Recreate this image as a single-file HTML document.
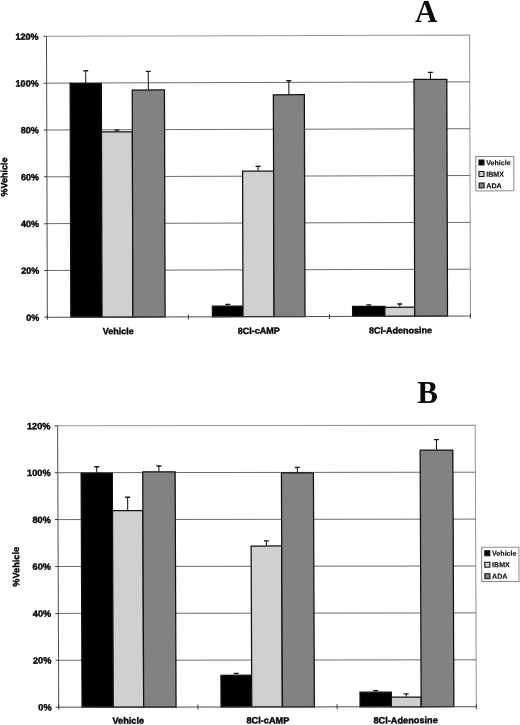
<!DOCTYPE html>
<html><head><meta charset="utf-8"><title>Figure</title>
<style>
html,body{margin:0;padding:0;background:#fff;}
body{width:520px;height:725px;overflow:hidden;}
svg{display:block;}
.t{font-family:"Liberation Sans",Arial,sans-serif;font-weight:bold;fill:#050505;stroke:#050505;stroke-width:0.4;}
.l{font-family:"Liberation Sans",Arial,sans-serif;font-weight:bold;fill:#111;stroke:#111;stroke-width:0.15;}
.h{font-family:"Liberation Serif","Times New Roman",serif;font-weight:bold;fill:#0a0a0a;}
</style></head><body>
<svg width="520" height="725" viewBox="0 0 520 725">
<rect width="520" height="725" fill="#fff"/>
<text x="426.3" y="22.4" text-anchor="middle" class="h" font-size="31">A</text>
<text x="427.7" y="402.6" text-anchor="middle" class="h" font-size="31">B</text>
<g transform="matrix(1,-0.003,0.003,1,46.5,36.3)">
<path d="M0,0 H423.1 V281" fill="none" stroke="#959595" stroke-width="1"/>
<line x1="0" y1="46.83" x2="423.1" y2="46.83" stroke="#5a5a5a" stroke-width="0.9"/>
<line x1="0" y1="93.67" x2="423.1" y2="93.67" stroke="#5a5a5a" stroke-width="0.9"/>
<line x1="0" y1="140.50" x2="423.1" y2="140.50" stroke="#5a5a5a" stroke-width="0.9"/>
<line x1="0" y1="187.33" x2="423.1" y2="187.33" stroke="#5a5a5a" stroke-width="0.9"/>
<line x1="0" y1="234.17" x2="423.1" y2="234.17" stroke="#5a5a5a" stroke-width="0.9"/>
<path d="M39.08,46.83 V34.42" stroke="#1a1a1a" stroke-width="1.05" fill="none"/>
<path d="M36.58,34.62 H41.58" stroke="#1a1a1a" stroke-width="1.35" fill="none"/>
<rect x="23.48" y="47.23" width="31.20" height="233.77" fill="#000" stroke="#111" stroke-width="1.25"/>
<path d="M70.13,95.31 V93.90" stroke="#1a1a1a" stroke-width="1.05" fill="none"/>
<path d="M67.63,94.10 H72.63" stroke="#1a1a1a" stroke-width="1.35" fill="none"/>
<rect x="54.68" y="95.71" width="30.90" height="185.29" fill="#d0d0d0" stroke="#111" stroke-width="1.25"/>
<path d="M101.68,53.62 V35.12" stroke="#1a1a1a" stroke-width="1.05" fill="none"/>
<path d="M99.18,35.33 H104.18" stroke="#1a1a1a" stroke-width="1.35" fill="none"/>
<rect x="85.58" y="54.02" width="32.20" height="226.98" fill="#828282" stroke="#111" stroke-width="1.25"/>
<path d="M180.38,269.99 V268.36" stroke="#1a1a1a" stroke-width="1.05" fill="none"/>
<path d="M177.88,268.56 H182.88" stroke="#1a1a1a" stroke-width="1.35" fill="none"/>
<rect x="165.08" y="270.39" width="30.60" height="10.61" fill="#000" stroke="#111" stroke-width="1.25"/>
<path d="M211.18,135.11 V130.43" stroke="#1a1a1a" stroke-width="1.05" fill="none"/>
<path d="M208.68,130.63 H213.68" stroke="#1a1a1a" stroke-width="1.35" fill="none"/>
<rect x="195.68" y="135.51" width="31.00" height="145.49" fill="#d0d0d0" stroke="#111" stroke-width="1.25"/>
<path d="M242.18,58.78 V44.96" stroke="#1a1a1a" stroke-width="1.05" fill="none"/>
<path d="M239.68,45.16 H244.68" stroke="#1a1a1a" stroke-width="1.35" fill="none"/>
<rect x="226.68" y="59.18" width="31.00" height="221.82" fill="#828282" stroke="#111" stroke-width="1.25"/>
<path d="M321.43,270.70 V269.29" stroke="#1a1a1a" stroke-width="1.05" fill="none"/>
<path d="M318.93,269.49 H323.93" stroke="#1a1a1a" stroke-width="1.35" fill="none"/>
<rect x="305.28" y="271.10" width="32.30" height="9.90" fill="#000" stroke="#111" stroke-width="1.25"/>
<path d="M352.48,271.63 V268.59" stroke="#1a1a1a" stroke-width="1.05" fill="none"/>
<path d="M349.98,268.79 H354.98" stroke="#1a1a1a" stroke-width="1.35" fill="none"/>
<rect x="337.58" y="272.03" width="29.80" height="8.97" fill="#d0d0d0" stroke="#111" stroke-width="1.25"/>
<path d="M383.78,43.79 V37.00" stroke="#1a1a1a" stroke-width="1.05" fill="none"/>
<path d="M381.28,37.20 H386.28" stroke="#1a1a1a" stroke-width="1.35" fill="none"/>
<rect x="367.38" y="44.19" width="32.80" height="236.81" fill="#828282" stroke="#111" stroke-width="1.25"/>
<path d="M0,0 V281 H423.1" fill="none" stroke="#444" stroke-width="0.95"/>
<line x1="-3" y1="0.00" x2="0" y2="0.00" stroke="#3a3a3a" stroke-width="1"/>
<text x="-8" y="3.30" text-anchor="end" class="t" font-size="9">120%</text>
<line x1="-3" y1="46.83" x2="0" y2="46.83" stroke="#3a3a3a" stroke-width="1"/>
<text x="-8" y="50.13" text-anchor="end" class="t" font-size="9">100%</text>
<line x1="-3" y1="93.67" x2="0" y2="93.67" stroke="#3a3a3a" stroke-width="1"/>
<text x="-8" y="96.97" text-anchor="end" class="t" font-size="9">80%</text>
<line x1="-3" y1="140.50" x2="0" y2="140.50" stroke="#3a3a3a" stroke-width="1"/>
<text x="-8" y="143.80" text-anchor="end" class="t" font-size="9">60%</text>
<line x1="-3" y1="187.33" x2="0" y2="187.33" stroke="#3a3a3a" stroke-width="1"/>
<text x="-8" y="190.63" text-anchor="end" class="t" font-size="9">40%</text>
<line x1="-3" y1="234.17" x2="0" y2="234.17" stroke="#3a3a3a" stroke-width="1"/>
<text x="-8" y="237.47" text-anchor="end" class="t" font-size="9">20%</text>
<line x1="-3" y1="281.00" x2="0" y2="281.00" stroke="#3a3a3a" stroke-width="1"/>
<text x="-8" y="284.30" text-anchor="end" class="t" font-size="9">0%</text>
<line x1="0.00" y1="278.5" x2="0.00" y2="283.5" stroke="#3a3a3a" stroke-width="1"/>
<line x1="141.03" y1="278.5" x2="141.03" y2="283.5" stroke="#3a3a3a" stroke-width="1"/>
<line x1="282.07" y1="278.5" x2="282.07" y2="283.5" stroke="#3a3a3a" stroke-width="1"/>
<line x1="423.10" y1="278.5" x2="423.10" y2="283.5" stroke="#3a3a3a" stroke-width="1"/>
<text x="70.76" y="298.2" text-anchor="middle" class="t" font-size="9">Vehicle</text>
<text x="211.46" y="298.2" text-anchor="middle" class="t" font-size="9">8Cl-cAMP</text>
<text x="353.06" y="298.2" text-anchor="middle" class="t" font-size="9">8Cl-Adenosine</text>
<text transform="translate(-39.7,140.6) rotate(-90)" text-anchor="middle" class="t" font-size="9">%Vehicle</text>
<rect x="428.9" y="121.5" width="38" height="34.4" fill="#fff" stroke="#8a8a8a" stroke-width="1"/>
<rect x="432.09999999999997" y="125.00" width="5" height="5" fill="#000" stroke="#111" stroke-width="1.1"/>
<text x="439.29999999999995" y="130.20" class="l" font-size="7.1">Vehicle</text>
<rect x="432.09999999999997" y="136.50" width="5" height="5" fill="#d0d0d0" stroke="#111" stroke-width="1.1"/>
<text x="439.29999999999995" y="141.70" class="l" font-size="7.1">IBMX</text>
<rect x="432.09999999999997" y="148.00" width="5" height="5" fill="#828282" stroke="#111" stroke-width="1.1"/>
<text x="439.29999999999995" y="153.20" class="l" font-size="7.1">ADA</text>
</g>
<g transform="matrix(1,-0.0012,0.004,1,57.6,425.8)">
<path d="M0,0 H417.6 V281.4" fill="none" stroke="#959595" stroke-width="1"/>
<line x1="0" y1="46.90" x2="417.6" y2="46.90" stroke="#5a5a5a" stroke-width="0.9"/>
<line x1="0" y1="93.80" x2="417.6" y2="93.80" stroke="#5a5a5a" stroke-width="0.9"/>
<line x1="0" y1="140.70" x2="417.6" y2="140.70" stroke="#5a5a5a" stroke-width="0.9"/>
<line x1="0" y1="187.60" x2="417.6" y2="187.60" stroke="#5a5a5a" stroke-width="0.9"/>
<line x1="0" y1="234.50" x2="417.6" y2="234.50" stroke="#5a5a5a" stroke-width="0.9"/>
<path d="M38.94,46.90 V40.80" stroke="#1a1a1a" stroke-width="1.05" fill="none"/>
<path d="M36.44,41.00 H41.44" stroke="#1a1a1a" stroke-width="1.35" fill="none"/>
<rect x="23.34" y="47.30" width="31.20" height="234.10" fill="#000" stroke="#111" stroke-width="1.25"/>
<path d="M69.74,84.42 V71.29" stroke="#1a1a1a" stroke-width="1.05" fill="none"/>
<path d="M67.24,71.49 H72.24" stroke="#1a1a1a" stroke-width="1.35" fill="none"/>
<rect x="54.54" y="84.82" width="30.40" height="196.58" fill="#d0d0d0" stroke="#111" stroke-width="1.25"/>
<path d="M101.14,45.73 V40.10" stroke="#1a1a1a" stroke-width="1.05" fill="none"/>
<path d="M98.64,40.30 H103.64" stroke="#1a1a1a" stroke-width="1.35" fill="none"/>
<rect x="84.94" y="46.13" width="32.40" height="235.27" fill="#828282" stroke="#111" stroke-width="1.25"/>
<path d="M177.69,249.27 V247.63" stroke="#1a1a1a" stroke-width="1.05" fill="none"/>
<path d="M175.19,247.83 H180.19" stroke="#1a1a1a" stroke-width="1.35" fill="none"/>
<rect x="162.34" y="249.67" width="30.70" height="31.73" fill="#000" stroke="#111" stroke-width="1.25"/>
<path d="M208.34,120.06 V115.14" stroke="#1a1a1a" stroke-width="1.05" fill="none"/>
<path d="M205.84,115.34 H210.84" stroke="#1a1a1a" stroke-width="1.35" fill="none"/>
<rect x="193.04" y="120.46" width="30.60" height="160.94" fill="#d0d0d0" stroke="#111" stroke-width="1.25"/>
<path d="M239.64,46.90 V41.74" stroke="#1a1a1a" stroke-width="1.05" fill="none"/>
<path d="M237.14,41.94 H242.14" stroke="#1a1a1a" stroke-width="1.35" fill="none"/>
<rect x="223.64" y="47.30" width="32.00" height="234.10" fill="#828282" stroke="#111" stroke-width="1.25"/>
<path d="M316.99,266.39 V264.98" stroke="#1a1a1a" stroke-width="1.05" fill="none"/>
<path d="M314.49,265.18 H319.49" stroke="#1a1a1a" stroke-width="1.35" fill="none"/>
<rect x="301.34" y="266.79" width="31.30" height="14.61" fill="#000" stroke="#111" stroke-width="1.25"/>
<path d="M347.54,271.32 V268.27" stroke="#1a1a1a" stroke-width="1.05" fill="none"/>
<path d="M345.04,268.47 H350.04" stroke="#1a1a1a" stroke-width="1.35" fill="none"/>
<rect x="332.64" y="271.72" width="29.80" height="9.68" fill="#d0d0d0" stroke="#111" stroke-width="1.25"/>
<path d="M378.79,24.39 V14.07" stroke="#1a1a1a" stroke-width="1.05" fill="none"/>
<path d="M376.29,14.27 H381.29" stroke="#1a1a1a" stroke-width="1.35" fill="none"/>
<rect x="362.44" y="24.79" width="32.70" height="256.61" fill="#828282" stroke="#111" stroke-width="1.25"/>
<path d="M0,0 V281.4 H417.6" fill="none" stroke="#444" stroke-width="0.95"/>
<line x1="-3" y1="0.00" x2="0" y2="0.00" stroke="#3a3a3a" stroke-width="1"/>
<text x="-7.2" y="3.30" text-anchor="end" class="t" font-size="9.2">120%</text>
<line x1="-3" y1="46.90" x2="0" y2="46.90" stroke="#3a3a3a" stroke-width="1"/>
<text x="-7.2" y="50.20" text-anchor="end" class="t" font-size="9.2">100%</text>
<line x1="-3" y1="93.80" x2="0" y2="93.80" stroke="#3a3a3a" stroke-width="1"/>
<text x="-7.2" y="97.10" text-anchor="end" class="t" font-size="9.2">80%</text>
<line x1="-3" y1="140.70" x2="0" y2="140.70" stroke="#3a3a3a" stroke-width="1"/>
<text x="-7.2" y="144.00" text-anchor="end" class="t" font-size="9.2">60%</text>
<line x1="-3" y1="187.60" x2="0" y2="187.60" stroke="#3a3a3a" stroke-width="1"/>
<text x="-7.2" y="190.90" text-anchor="end" class="t" font-size="9.2">40%</text>
<line x1="-3" y1="234.50" x2="0" y2="234.50" stroke="#3a3a3a" stroke-width="1"/>
<text x="-7.2" y="237.80" text-anchor="end" class="t" font-size="9.2">20%</text>
<line x1="-3" y1="281.40" x2="0" y2="281.40" stroke="#3a3a3a" stroke-width="1"/>
<text x="-7.2" y="284.70" text-anchor="end" class="t" font-size="9.2">0%</text>
<line x1="0.00" y1="278.9" x2="0.00" y2="283.9" stroke="#3a3a3a" stroke-width="1"/>
<line x1="139.20" y1="278.9" x2="139.20" y2="283.9" stroke="#3a3a3a" stroke-width="1"/>
<line x1="278.40" y1="278.9" x2="278.40" y2="283.9" stroke="#3a3a3a" stroke-width="1"/>
<line x1="417.60" y1="278.9" x2="417.60" y2="283.9" stroke="#3a3a3a" stroke-width="1"/>
<text x="69.47" y="298.0" text-anchor="middle" class="t" font-size="9.2">Vehicle</text>
<text x="209.07" y="298.0" text-anchor="middle" class="t" font-size="9.2">8Cl-cAMP</text>
<text x="346.87" y="298.0" text-anchor="middle" class="t" font-size="9.2">8Cl-Adenosine</text>
<text transform="translate(-39,141) rotate(-90)" text-anchor="middle" class="t" font-size="9.2">%Vehicle</text>
<rect x="423.5" y="121.9" width="37.3" height="34.4" fill="#fff" stroke="#8a8a8a" stroke-width="1"/>
<rect x="426.7" y="125.40" width="5" height="5" fill="#000" stroke="#111" stroke-width="1.1"/>
<text x="433.9" y="130.60" class="l" font-size="7.1">Vehicle</text>
<rect x="426.7" y="136.90" width="5" height="5" fill="#d0d0d0" stroke="#111" stroke-width="1.1"/>
<text x="433.9" y="142.10" class="l" font-size="7.1">IBMX</text>
<rect x="426.7" y="148.40" width="5" height="5" fill="#828282" stroke="#111" stroke-width="1.1"/>
<text x="433.9" y="153.60" class="l" font-size="7.1">ADA</text>
</g>
</svg>
</body></html>
